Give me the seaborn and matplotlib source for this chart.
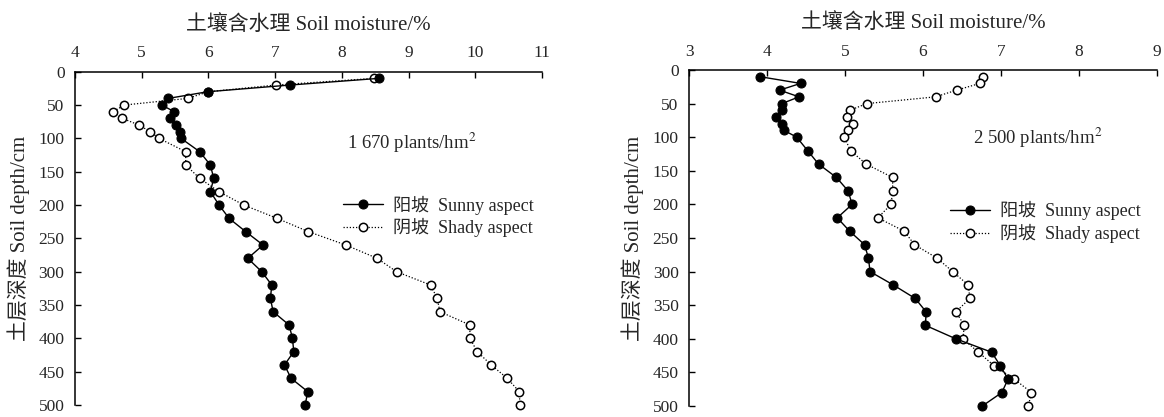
import numpy as np
import pandas as pd
import matplotlib
matplotlib.use("Agg")
import matplotlib.pyplot as plt
import seaborn as sns

depths = [10, 20, 30, 40, 50, 60, 70, 80, 90, 100, 120, 140, 160, 180, 200,
          220, 240, 260, 280, 300, 320, 340, 360, 380, 400, 420, 440, 460, 480, 500]

sunny_1670 = [8.55, 7.22, 5.99, 5.40, 5.30, 5.49, 5.42, 5.51, 5.58, 5.59, 5.87, 6.03,
              6.08, 6.03, 6.16, 6.31, 6.56, 6.82, 6.59, 6.80, 6.95, 6.93, 6.97, 7.21,
              7.26, 7.28, 7.14, 7.24, 7.49, 7.45]
shady_1670 = [8.48, 7.01, 6.00, 5.69, 4.74, 4.57, 4.71, 4.96, 5.13, 5.26, 5.66, 5.66,
              5.87, 6.16, 6.53, 7.03, 7.50, 8.06, 8.53, 8.82, 9.33, 9.43, 9.47, 9.92,
              9.92, 10.03, 10.24, 10.48, 10.66, 10.67]
sunny_2500 = [3.91, 4.43, 4.16, 4.41, 4.19, 4.19, 4.11, 4.19, 4.22, 4.38, 4.52, 4.66,
              4.89, 5.04, 5.09, 4.90, 5.06, 5.25, 5.30, 5.32, 5.62, 5.90, 6.04, 6.03,
              6.42, 6.88, 6.99, 7.09, 7.01, 6.76]
shady_2500 = [6.77, 6.73, 6.43, 6.16, 5.28, 5.06, 5.02, 5.10, 5.04, 4.99, 5.07, 5.27,
              5.61, 5.61, 5.59, 5.42, 5.76, 5.89, 6.18, 6.38, 6.58, 6.60, 6.42, 6.53,
              6.51, 6.71, 6.91, 7.17, 7.39, 7.35]

panel_labels = ["1 670 plants/hm$^2$", "2 500 plants/hm$^2$"]
x_ranges = [(4, 11), (3, 9)]
xlabel = "土壤含水理 Soil moisture/%"
ylabel = "土层深度 Soil depth/cm"
legend_labels = ["阳坡  Sunny aspect", "阴坡  Shady aspect"]

sns.set_theme(style="white")
plt.rcParams['font.family'] = ['Liberation Serif', 'Noto Sans CJK SC']
plt.rcParams['mathtext.fontset'] = 'stix'

fig = plt.figure(figsize=(11.64, 4.17), dpi=100)
axes = [fig.add_axes([0.0644, 0.0288, 0.4012, 0.7992]),
        fig.add_axes([0.5920, 0.0264, 0.4020, 0.8058])]

panels = [(sunny_1670, shady_1670), (sunny_2500, shady_2500)]
legend_pos = [(0.559, 0.65), (0.543, 0.631)]
text_pos = [(0.582, 0.786), (0.607, 0.798)]

for i, ax in enumerate(axes):
    sunny, shady = panels[i]
    df_s = pd.DataFrame({"moisture": sunny, "depth": depths})
    df_h = pd.DataFrame({"moisture": shady, "depth": depths})
    sns.lineplot(data=df_h, x="moisture", y="depth", sort=False, estimator=None, ax=ax,
                 color="black", linestyle=(0, (1, 1.5)), linewidth=0.9, marker="o",
                 markersize=6, markerfacecolor="white", markeredgecolor="black",
                 markeredgewidth=1.1, label=legend_labels[1], legend=False,
                 clip_on=False)
    sns.lineplot(data=df_s, x="moisture", y="depth", sort=False, estimator=None, ax=ax,
                 color="black", linestyle="-", linewidth=1.0, marker="o",
                 markersize=6.5, markerfacecolor="black", markeredgecolor="black",
                 label=legend_labels[0], legend=False, clip_on=False)
    ax.set_xlim(*x_ranges[i])
    ax.set_ylim(500, 0)
    ax.set_yticks(np.arange(0, 501, 50))
    ax.set_xticks(np.arange(x_ranges[i][0], x_ranges[i][1] + 1, 1))
    ax.xaxis.tick_top()
    ax.xaxis.set_label_position('top')
    ax.set_xlabel(xlabel, fontsize=15, labelpad=11)
    ax.set_ylabel(ylabel, fontsize=15, labelpad=6)
    ax.tick_params(axis='both', which='both', direction='in', length=4, width=1,
                   labelsize=12.5, color='black', top=True, bottom=False, left=True,
                   right=False, pad=7.5)
    for s in ['right', 'bottom']:
        ax.spines[s].set_visible(False)
    for s in ['top', 'left']:
        ax.spines[s].set_color('black')
        ax.spines[s].set_linewidth(1.1)
    ax.text(text_pos[i][0], text_pos[i][1], panel_labels[i], transform=ax.transAxes,
            fontsize=13.5, ha='left', va='center')
    lines = ax.get_lines()
    handles = [lines[1], lines[0]]
    leg = ax.legend(handles, legend_labels, loc='upper left',
                    bbox_to_anchor=legend_pos[i], frameon=False, fontsize=13,
                    handlelength=2.2, handletextpad=0.55, labelspacing=0.2,
                    borderaxespad=0)

fig.savefig("out.png", dpi=100)
